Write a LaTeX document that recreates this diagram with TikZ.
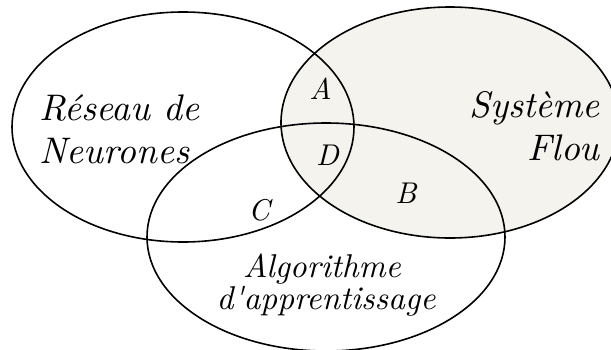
\documentclass[tikz,border=0pt]{standalone}
\usepackage{fontspec}
\setmainfont{lmroman10-regular.otf}[ItalicFont=lmroman10-italic.otf]
\definecolor{flou}{RGB}{244,243,238}
\tikzset{
  set/.style={draw=black, line width=1.6pt},
  lbl/.style={inner sep=0pt, font=\fontsize{37}{44}\selectfont\itshape},
  lblsmall/.style={inner sep=0pt, font=\fontsize{33}{40}\selectfont\itshape},
  zone/.style={inner sep=0pt, font=\fontsize{30}{36}\selectfont\itshape}
}
\begin{document}
\begin{tikzpicture}[x=1pt,y=-1pt]
  \useasboundingbox (0,0) rectangle (611,349);
  \clip (0,0) rectangle (611,349);
  % shaded fuzzy-system set
  \fill[flou] (450,122.5) ellipse [x radius=169, y radius=115.5];
  % outlines of the three sets
  \draw[set] (183,127) ellipse [x radius=171, y radius=115];
  \draw[set] (450,122.5) ellipse [x radius=169, y radius=115.5];
  \draw[set] (326,237) ellipse [x radius=179, y radius=114];
  % set names
  \node[lbl, anchor=base west] (rn1) at (39,120) {Réseau de};
  \node[lbl, anchor=base west] (rn2) at (39,163) {Neurones};
  \node[lbl, anchor=base east] (sf1) at (600,117) {Système};
  \node[lbl, anchor=base east] (sf2) at (600,160) {Flou};
  \node[lblsmall, anchor=base] (al1) at (322,277) {Algorithme};
  \node[lblsmall, anchor=base] (al2) at (326,309) {d\textquotesingle apprentissage};
  % intersection zones
  \node[zone, anchor=base] (za) at (320.5,99) {A};
  \node[zone, anchor=base] (zd) at (327.5,165) {D};
  \node[zone, anchor=base] (zb) at (406,203) {B};
  \node[zone, anchor=base] (zc) at (259,220) {C};
\end{tikzpicture}
\end{document}
